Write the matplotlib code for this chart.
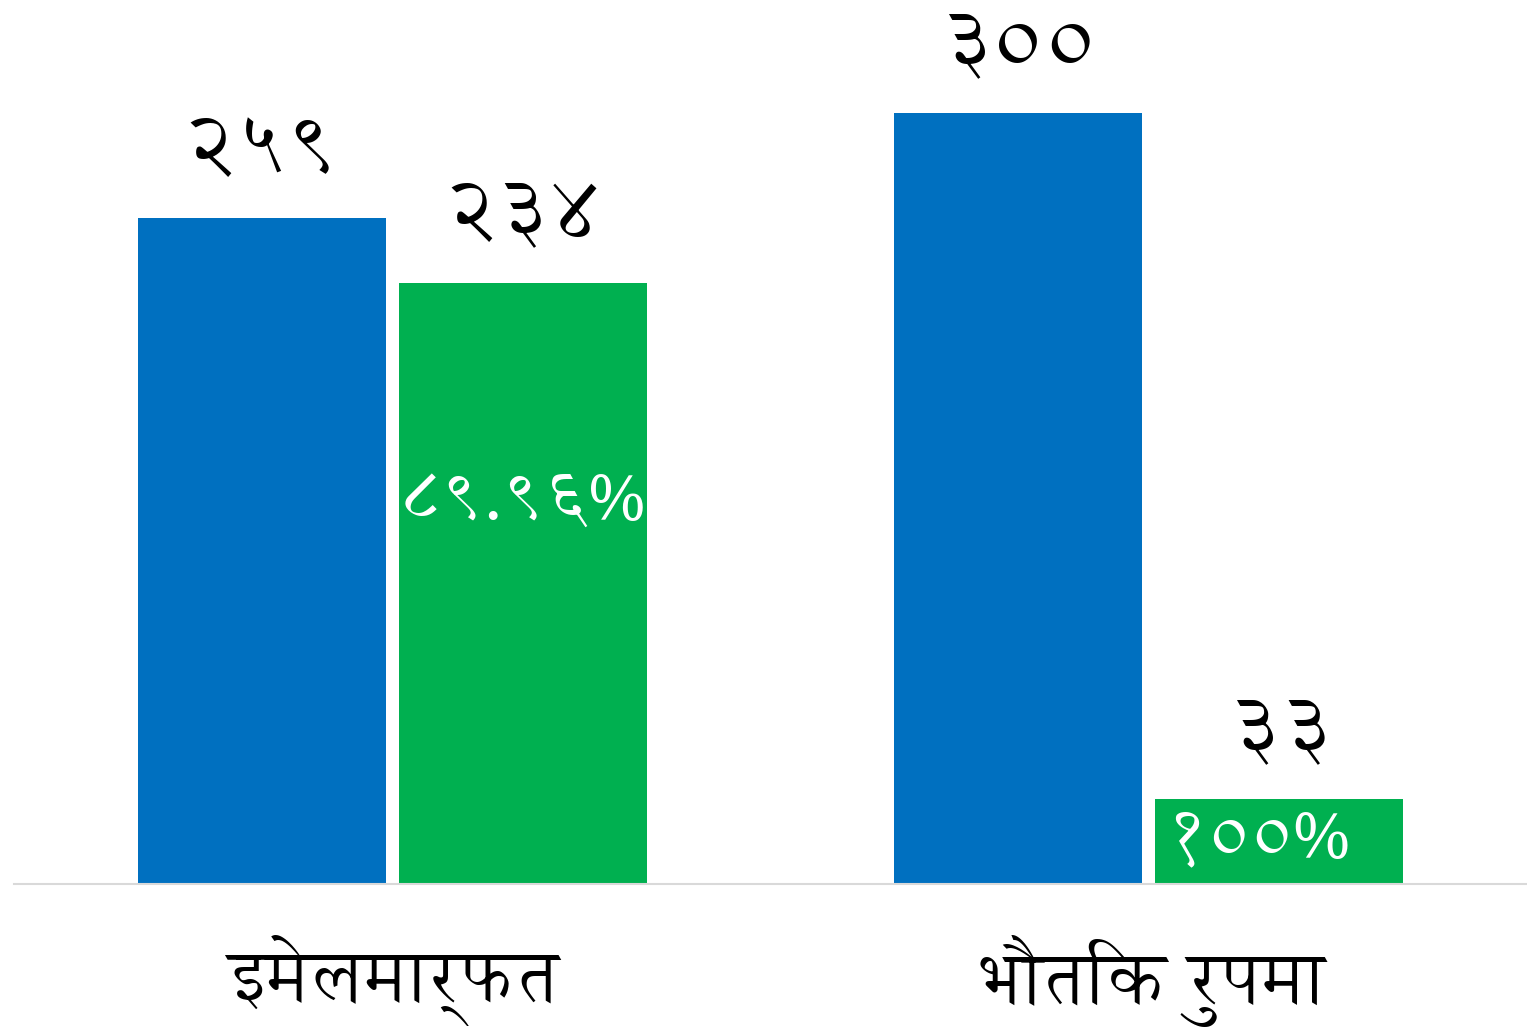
import matplotlib
matplotlib.use('Agg')
import matplotlib.pyplot as plt
import numpy as np

plt.rcParams['font.family'] = ['Annapurna SIL', 'Tiro Devanagari Hindi', 'DejaVu Sans']

# data
categories = ['इमेलमार्फत', 'भौतिक रुपमा']
total = [259, 300]
received = [234, 33]
total_labels = ['२५९', '३००']
received_labels = ['२३४', '३३']
pct_labels = ['८९.९६%', '१००%']

blue = '#0070C0'
green = '#00B050'

fig = plt.figure(figsize=(15.27, 10.33), dpi=100)
ax = fig.add_axes([14 / 1527, 149 / 1033, 1 - 14 / 1527, 884 / 1033])

x = np.arange(len(categories))
w = 0.3276
off = 0.1724
b1 = ax.bar(x - off, total, w, color=blue)
b2 = ax.bar(x + off, received, w, color=green)

ax.set_xlim(-0.5, 1.5)
ax.set_ylim(0, 344)

for bars, labels in [(b1, total_labels), (b2, received_labels)]:
    for rect, lab in zip(bars, labels):
        ax.annotate(lab, (rect.get_x() + rect.get_width() / 2, rect.get_height()),
                    xytext=(0, 20), textcoords='offset points', ha='center', va='bottom',
                    fontsize=64, color='black')

# percentages inside the green bars
ax.text(x[0] + off, received[0] / 2 + 31.5, pct_labels[0], ha='center', va='center',
        fontsize=52, color='white')
ax.text(x[1] + off - 0.029, received[1] / 2 + 0.5, pct_labels[1], ha='center', va='center',
        fontsize=52, color='white')

ax.set_xticks(x)
ax.set_xticklabels(categories, fontsize=53)
ax.tick_params(axis='x', length=0, pad=37)
ax.set_yticks([])
for s in ['top', 'right', 'left']:
    ax.spines[s].set_visible(False)
ax.spines['bottom'].set_color('#D9D9D9')
ax.spines['bottom'].set_linewidth(1.5)

fig.savefig('out.png', dpi=100)
